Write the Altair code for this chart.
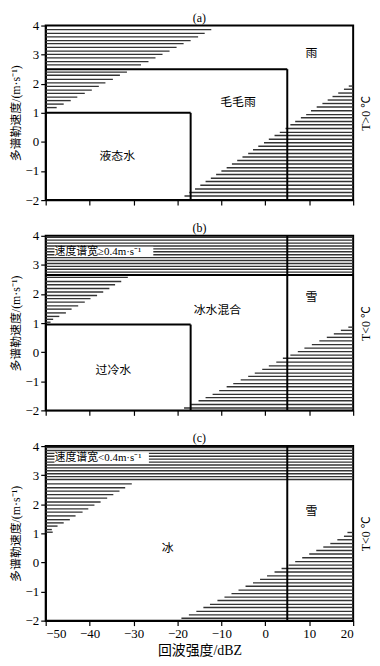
import altair as alt
import pandas as pd

X_TICKS = [-50, -40, -30, -20, -10, 0, 10, 20]
Y_TICKS = [-2, -1, 0, 1, 2, 3, 4]
X_DOMAIN = [-50, 20]
Y_DOMAIN = [-2, 4]

# ---- panel (a) ----
a_tl_y = [3.86, 3.73, 3.61, 3.48, 3.38, 3.25, 3.12, 3.01, 2.89, 2.76, 2.65,
          2.40, 2.29, 2.15, 2.03, 1.91, 1.78, 1.67, 1.54, 1.42, 1.30, 1.18]
a_tl_x2 = [-12.3, -13.8, -15.3, -17.0, -18.6, -20.2, -21.8, -23.4, -25.0, -26.6, -28.3,
           -31.5, -33.1, -34.7, -36.4, -37.9, -39.5, -41.1, -42.8, -44.3, -45.9, -47.5]
a_br_y = [1.92, 1.81, 1.68, 1.56, 1.44, 1.32, 1.20, 1.07, 0.94, 0.83, 0.70, 0.59,
          0.46, 0.33, 0.22, 0.09, -0.03, -0.15, -0.27, -0.40, -0.52, -0.64, -0.76,
          -0.89, -1.00, -1.12, -1.25, -1.36, -1.49, -1.62, -1.74, -1.86]
a_br_x1 = [19.0, 17.9, 16.6, 15.3, 14.2, 13.0, 11.7, 10.4, 9.3, 8.1, 6.8, 5.7,
           4.6, 3.3, 2.1, 0.8, -0.3, -1.6, -2.8, -3.9, -5.2, -6.4, -7.6,
           -8.8, -10.0, -11.2, -12.4, -13.6, -14.8, -16.0, -17.3, -18.4]
a_seg = {"x": [-50, -17, -50, 5], "x2": [-17, -17, 5, 5],
         "y": [1, 1, 2.5, 2.5], "y2": [1, -2, 2.5, -2]}
a_lab = {"x": [10.5, -6.2, -33.7], "y": [3.05, 1.38, -0.47],
         "t": ["雨", "毛毛雨", "液态水"]}

# ---- panel (b) ----
b_band_y = [3.95, 3.85, 3.75, 3.65, 3.55, 3.45, 3.35, 3.25, 3.15, 3.05, 2.95, 2.85, 2.75]
b_tl_y = [2.57, 2.43, 2.32, 2.19, 2.07, 1.95, 1.84, 1.72, 1.59, 1.48, 1.35, 1.23, 1.13, 1.03]
b_tl_x2 = [-31.3, -32.8, -34.2, -35.5, -36.9, -38.3, -39.8, -41.1, -42.6, -44.1,
           -45.4, -46.9, -48.3, -48.9]
b_br_y = [0.86, 0.75, 0.63, 0.51, 0.39, 0.26, 0.14, 0.02, -0.10, -0.21, -0.34, -0.47,
          -0.59, -0.72, -0.83, -0.95, -1.08, -1.19, -1.32, -1.45, -1.56, -1.67, -1.80, -1.92]
b_br_x1 = [18.9, 17.2, 15.6, 14.0, 12.3, 10.6, 8.9, 7.4, 5.7, 4.0, 2.5, 0.8,
           -0.7, -2.4, -3.9, -5.6, -7.3, -8.8, -10.5, -12.0, -13.6, -15.2, -16.9, -18.5]
b_seg = {"x": [-50, -17, -50, 5], "x2": [-17, -17, 20, 5],
         "y": [0.95, 0.95, 2.65, 4], "y2": [0.95, -2, 2.65, -2]}
b_lab = {"x": [10.5, -10.9, -34.6], "y": [1.91, 1.45, -0.6],
         "t": ["雪", "冰水混合", "过冷水"]}
b_note = {"x": [-48.0], "x2": [-25.5], "y": [3.28], "y2": [3.62], "ty": [3.45],
          "t": ["速度谱宽≥0.4m·s⁻¹"]}

# ---- panel (c) ----
c_band_y = [3.95, 3.85, 3.75, 3.65, 3.55, 3.45, 3.35, 3.25, 3.15, 3.05, 2.95, 2.85]
c_tl_y = [2.70, 2.57, 2.45, 2.33, 2.21, 2.08, 1.97, 1.84, 1.73, 1.60, 1.47, 1.36,
          1.25, 1.13, 1.04]
c_tl_x2 = [-30.4, -31.9, -33.2, -34.6, -36.0, -37.5, -38.9, -40.3, -41.6, -43.2,
           -44.5, -45.9, -47.3, -48.6, -48.4]
c_br_y = [1.03, 0.90, 0.78, 0.65, 0.53, 0.41, 0.29, 0.16, 0.03, -0.09, -0.21, -0.33,
          -0.46, -0.58, -0.70, -0.82, -0.95, -1.07, -1.19, -1.31, -1.44, -1.55,
          -1.68, -1.80, -1.92]
c_br_x1 = [18.7, 17.9, 16.4, 14.8, 13.2, 11.6, 10.0, 8.4, 6.8, 5.3, 3.7, 2.1,
           0.4, -1.2, -2.8, -4.5, -6.1, -7.7, -9.3, -10.9, -12.6, -14.1,
           -15.7, -17.4, -19.1]
c_seg = {"x": [5], "x2": [5], "y": [4], "y2": [-2]}
c_lab = {"x": [10.5, -22.2], "y": [1.76, 0.5], "t": ["雪", "冰"]}
c_note = {"x": [-48.0], "x2": [-26.5], "y": [3.42], "y2": [3.79], "ty": [3.6],
          "t": ["速度谱宽<0.4m·s⁻¹"]}

FONT = "Liberation Serif, Noto Sans CJK SC"


def hatch(tl_y, tl_x2, br_y, br_x1, band_y):
    rows = []
    for y, x2 in zip(tl_y, tl_x2):
        rows.append({"x1": X_DOMAIN[0], "x2": x2, "y": y})
    for y, x1 in zip(br_y, br_x1):
        rows.append({"x1": x1, "x2": X_DOMAIN[1], "y": y})
    for y in band_y:
        rows.append({"x1": X_DOMAIN[0], "x2": X_DOMAIN[1], "y": y})
    return pd.DataFrame(rows)


def panel(letter, hdf, seg, lab, note, right_title, bottom):
    xs = alt.Scale(domain=X_DOMAIN, nice=False, zero=False)
    ys = alt.Scale(domain=Y_DOMAIN, nice=False, zero=False)
    xaxis = alt.Axis(values=X_TICKS, labels=bottom, grid=False, tickSize=5,
                     labelFontSize=13, titleFontSize=14, titlePadding=3)
    yaxis = alt.Axis(values=Y_TICKS, grid=False, tickSize=5, labelFontSize=13,
                     titleFontSize=12, titlePadding=3,
                     title="多谱勒速度/(m·s⁻¹)")
    base = alt.Chart(hdf).mark_rule(color="#333333", strokeWidth=1.4).encode(
        x=alt.X("x1:Q", scale=xs, axis=xaxis,
                title="回波强度/dBZ" if bottom else None),
        x2="x2:Q",
        y=alt.Y("y:Q", scale=ys, axis=yaxis),
    )
    segs = alt.Chart(pd.DataFrame(seg)).mark_rule(color="black", strokeWidth=2).encode(
        x="x:Q", x2="x2:Q", y=alt.Y("y:Q", axis=None), y2="y2:Q")
    layers = [base, segs]
    if note is not None:
        ndf = pd.DataFrame(note)
        layers.append(alt.Chart(ndf).mark_rect(fill="white").encode(
            x="x:Q", x2="x2:Q", y=alt.Y("y:Q", axis=None), y2="y2:Q"))
        layers.append(alt.Chart(ndf).mark_text(align="left", baseline="middle",
                                                fontSize=11, font=FONT, color="black").encode(
            x="x:Q", y=alt.Y("ty:Q", axis=None), text="t:N"))
    layers.append(alt.Chart(pd.DataFrame(lab)).mark_text(
        fontSize=12, font=FONT, color="black").encode(
        x="x:Q", y=alt.Y("y:Q", axis=None), text="t:N"))
    rdf = pd.DataFrame({"y": Y_DOMAIN})
    layers.append(alt.Chart(rdf).mark_point(opacity=0, size=1).encode(
        y=alt.Y("y:Q", scale=ys, axis=alt.Axis(orient="right", labels=False, ticks=False,
                                                domain=False, grid=False, title=right_title,
                                                titleAngle=270, titleBaseline="top",
                                                titleFontSize=12, titlePadding=7))))
    return alt.layer(*layers).resolve_axis(y="independent").properties(
        width=310, height=176,
        title=alt.TitleParams(letter, fontSize=12, font=FONT, fontWeight="normal",
                              offset=-5, frame="group"))


pa = panel("(a)", hatch(a_tl_y, a_tl_x2, a_br_y, a_br_x1, []), a_seg, a_lab, None,
           "T>0 ℃", False)
pb = panel("(b)", hatch(b_tl_y, b_tl_x2, b_br_y, b_br_x1, b_band_y), b_seg, b_lab, b_note,
           "T<0 ℃", False)
pc = panel("(c)", hatch(c_tl_y, c_tl_x2, c_br_y, c_br_x1, c_band_y), c_seg, c_lab, c_note,
           "T<0 ℃", True)

chart = alt.vconcat(pa, pb, pc, spacing=13).properties(
    padding={"left": 0, "top": 0, "right": 0, "bottom": 0}
).configure_view(stroke="black", strokeWidth=2).configure_axis(
    domainColor="black", domainWidth=1.5, tickColor="black", tickWidth=1.2,
    labelFont=FONT, titleFont=FONT, labelColor="black", titleColor="black",
    titleFontWeight="normal", labelPadding=2
).configure_title(color="black")

chart.save("out.html", embed_options={"renderer": "svg", "actions": False})
